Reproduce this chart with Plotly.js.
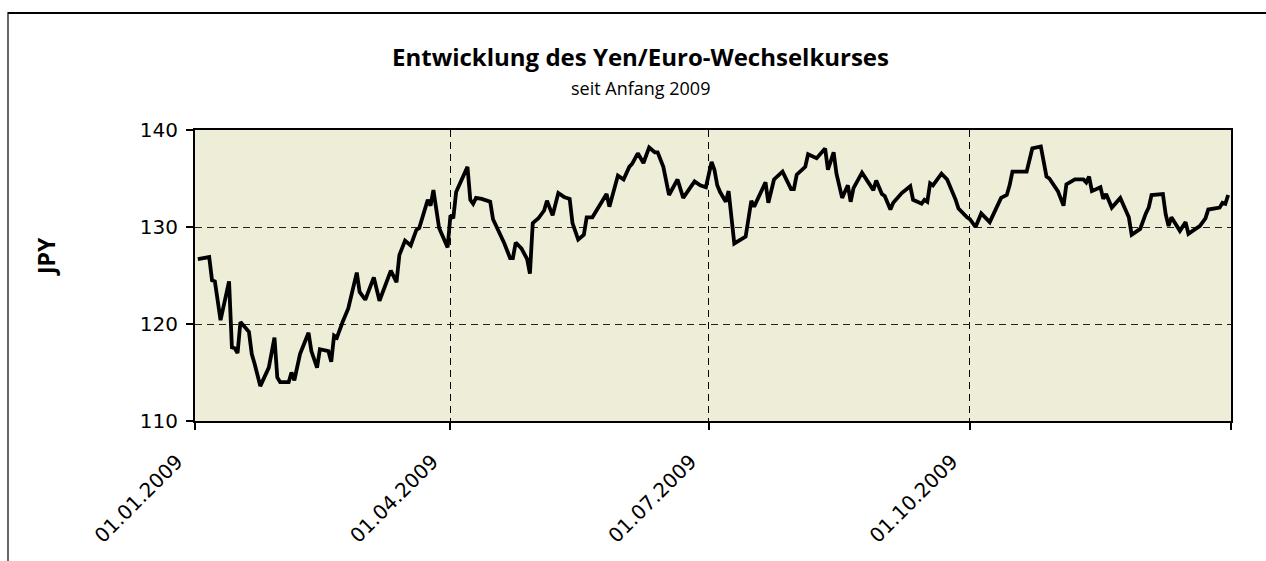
<!DOCTYPE html>
<html>
<head>
<meta charset="utf-8">
<script src="https://cdn.plot.ly/plotly-3.0.1.min.js"></script>
<style>
  html, body { margin: 0; padding: 0; background: #ffffff; }
  #chart { width: 1266px; height: 561px; }
</style>
</head>
<body>
<div id="chart"></div>
<script>
const dates = [
'2009-01-02','2009-01-06','2009-01-07','2009-01-08','2009-01-10','2009-01-13','2009-01-14','2009-01-15','2009-01-16','2009-01-17',
'2009-01-20','2009-01-21','2009-01-22','2009-01-24','2009-01-27','2009-01-29','2009-01-30','2009-01-31','2009-02-03','2009-02-04',
'2009-02-05','2009-02-06','2009-02-07','2009-02-10','2009-02-11','2009-02-13','2009-02-14','2009-02-17','2009-02-18','2009-02-19',
'2009-02-20','2009-02-22','2009-02-24','2009-02-27','2009-02-28','2009-03-02',
'2009-03-05','2009-03-07','2009-03-11','2009-03-13','2009-03-14','2009-03-16','2009-03-18','2009-03-20','2009-03-21','2009-03-24','2009-03-25','2009-03-26','2009-03-28','2009-03-31',
'2009-04-01','2009-04-02','2009-04-03','2009-04-07','2009-04-08','2009-04-09','2009-04-10','2009-04-12','2009-04-15','2009-04-16','2009-04-17','2009-04-20','2009-04-22','2009-04-23','2009-04-24','2009-04-26','2009-04-28','2009-04-29','2009-04-30',
'2009-05-02','2009-05-04','2009-05-05','2009-05-07','2009-05-09','2009-05-11','2009-05-13','2009-05-14','2009-05-16','2009-05-18','2009-05-19','2009-05-21','2009-05-26','2009-05-27','2009-05-30',
'2009-06-01','2009-06-03','2009-06-04','2009-06-06','2009-06-08','2009-06-10','2009-06-12','2009-06-13','2009-06-15','2009-06-17','2009-06-20','2009-06-22','2009-06-26','2009-06-28','2009-06-30',
'2009-07-02','2009-07-03','2009-07-04','2009-07-05','2009-07-07','2009-07-08','2009-07-09','2009-07-10','2009-07-14','2009-07-16','2009-07-17','2009-07-21','2009-07-22','2009-07-24','2009-07-27','2009-07-30','2009-07-31',
'2009-08-01','2009-08-04','2009-08-05','2009-08-08','2009-08-11','2009-08-12','2009-08-14','2009-08-15','2009-08-17','2009-08-19','2009-08-20','2009-08-21','2009-08-22','2009-08-24','2009-08-28','2009-08-29','2009-08-31',
'2009-09-01','2009-09-03','2009-09-04','2009-09-07','2009-09-10','2009-09-11','2009-09-14','2009-09-15','2009-09-16','2009-09-17','2009-09-18','2009-09-21','2009-09-23','2009-09-26','2009-09-27','2009-09-30',
'2009-10-01','2009-10-03','2009-10-05','2009-10-08','2009-10-12','2009-10-14','2009-10-15','2009-10-16','2009-10-21','2009-10-23','2009-10-26','2009-10-28','2009-10-29',
'2009-11-01','2009-11-03','2009-11-04','2009-11-07','2009-11-10','2009-11-11','2009-11-12','2009-11-13','2009-11-16','2009-11-17','2009-11-18','2009-11-20','2009-11-23','2009-11-24','2009-11-26','2009-11-27','2009-11-30',
'2009-12-02','2009-12-03','2009-12-04','2009-12-08','2009-12-09','2009-12-10','2009-12-11','2009-12-13','2009-12-14','2009-12-16','2009-12-17','2009-12-19','2009-12-21','2009-12-23','2009-12-24','2009-12-28','2009-12-29','2009-12-30','2009-12-31'
];

const jpyPerEuro = [
126.7,126.9,124.5,124.4,120.4,124.4,117.6,117.5,117.0,120.2,
119.2,116.9,115.9,113.6,115.5,118.6,114.5,114.0,114.0,115.0,
114.2,115.4,116.9,119.1,117.2,115.5,117.4,117.2,116.1,118.8,
118.6,120.2,121.6,125.3,123.3,122.5,
124.8,122.4,125.5,124.3,127.1,128.6,128.1,129.7,129.9,132.8,132.2,133.8,129.9,127.9,
131.2,130.9,133.6,136.2,132.8,132.4,133.0,132.9,132.6,130.8,130.2,128.3,126.8,126.8,128.4,127.8,126.7,125.2,130.4,
130.9,131.7,132.7,131.2,133.5,133.1,132.9,130.4,128.7,129.2,131.0,131.0,133.4,132.1,135.3,
134.9,136.2,136.5,137.6,136.6,138.2,137.7,137.7,136.2,133.3,134.9,133.0,134.7,134.3,134.1,
136.7,135.9,134.3,133.6,132.6,133.7,130.9,128.3,129.0,132.7,132.1,134.6,132.5,134.9,135.7,133.9,133.9,
135.4,136.2,137.5,137.1,138.1,135.9,137.7,135.5,133.0,134.3,132.6,134.0,134.6,135.6,133.8,134.8,133.4,
133.2,131.8,132.5,133.5,134.2,132.8,132.4,132.8,132.6,134.5,134.3,135.5,134.9,132.8,131.9,131.0,
130.8,130.0,131.4,130.5,133.0,133.3,134.3,135.7,135.7,138.1,138.3,135.2,135.0,
133.7,132.2,134.4,134.9,134.9,134.6,135.2,133.7,134.1,132.9,133.4,132.0,133.0,132.4,131.0,129.2,129.8,
131.4,132.0,133.3,133.4,131.3,130.1,131.0,130.0,129.6,130.5,129.3,129.7,130.1,130.9,131.8,132.0,132.5,132.4,133.3
];

const xTickVals = ['2009-01-01','2009-04-01','2009-07-01','2009-10-01','2010-01-01'];
const xTickText = ['01.01.2009','01.04.2009','01.07.2009','01.10.2009',''];
const yTickVals = [110, 120, 130, 140];

const titleText = 'Entwicklung des Yen/Euro-Wechselkurses';
const subtitleText = 'seit Anfang 2009';
const yLabel = 'JPY';

// layout geometry (pixels)
const W = 1266, H = 561;
const L = 195, R = 35, T = 130, B = 140;
const pw = W - L - R, ph = H - T - B;
const px = v => (v - L) / pw;
const py = v => (H - B - v) / ph;

const tickFont = { family: 'DejaVu Sans, sans-serif', size: 20, color: '#000' };

const trace = {
  type: 'scatter',
  mode: 'lines',
  x: dates,
  y: jpyPerEuro,
  line: { color: '#000000', width: 3.8, shape: 'linear' },
  hoverinfo: 'x+y',
  showlegend: false
};

const layout = {
  width: W, height: H,
  margin: { l: L, r: R, t: T, b: B, autoexpand: false },
  paper_bgcolor: '#ffffff',
  plot_bgcolor: '#EDEDD8',
  showlegend: false,
  xaxis: {
    type: 'date',
    range: ['2009-01-01', '2010-01-01'],
    tickmode: 'array',
    tickvals: xTickVals,
    ticktext: xTickText,
    tickangle: -45,
    tickfont: tickFont,
    ticklabelstandoff: 12,
    ticklabelshift: -18,
    ticks: 'outside', ticklen: 7, tickwidth: 2, tickcolor: '#000',
    showline: true, linecolor: '#000', linewidth: 2, mirror: true,
    showgrid: true, gridcolor: '#000', gridwidth: 1, griddash: '7px,5px',
    zeroline: false,
    automargin: false
  },
  yaxis: {
    range: [110, 140],
    tickmode: 'array',
    tickvals: yTickVals,
    tickfont: tickFont,
    ticklabelstandoff: 4,
    ticks: 'outside', ticklen: 7, tickwidth: 2, tickcolor: '#000',
    showline: true, linecolor: '#000', linewidth: 2, mirror: true,
    showgrid: true, gridcolor: '#222', gridwidth: 1, griddash: '7px,5px',
    zeroline: false,
    automargin: false
  },
  annotations: [
    { text: '<b>' + titleText + '</b>', xref: 'paper', yref: 'paper',
      x: px(640), y: py(56), xanchor: 'center', yanchor: 'middle', showarrow: false,
      font: { family: 'Open Sans, sans-serif', size: 24, color: '#000' } },
    { text: subtitleText, xref: 'paper', yref: 'paper',
      x: px(640), y: py(88), xanchor: 'center', yanchor: 'middle', showarrow: false,
      font: { family: 'Open Sans, sans-serif', size: 18, color: '#000' } },
    { text: '<b>' + yLabel + '</b>', xref: 'paper', yref: 'paper',
      x: px(46), y: py(257), xanchor: 'center', yanchor: 'middle', showarrow: false,
      textangle: -90,
      font: { family: 'Open Sans, sans-serif', size: 23, color: '#000' } }
  ],
  shapes: [
    { type: 'line', xref: 'paper', yref: 'paper', x0: px(8), x1: px(1266), y0: py(13), y1: py(13),
      line: { color: '#000', width: 2 } },
    { type: 'line', xref: 'paper', yref: 'paper', x0: px(8), x1: px(8), y0: py(12), y1: py(561),
      line: { color: '#000', width: 1.2 } }
  ]
};

Plotly.newPlot('chart', [trace], layout, { displayModeBar: false, staticPlot: true });
</script>
</body>
</html>
